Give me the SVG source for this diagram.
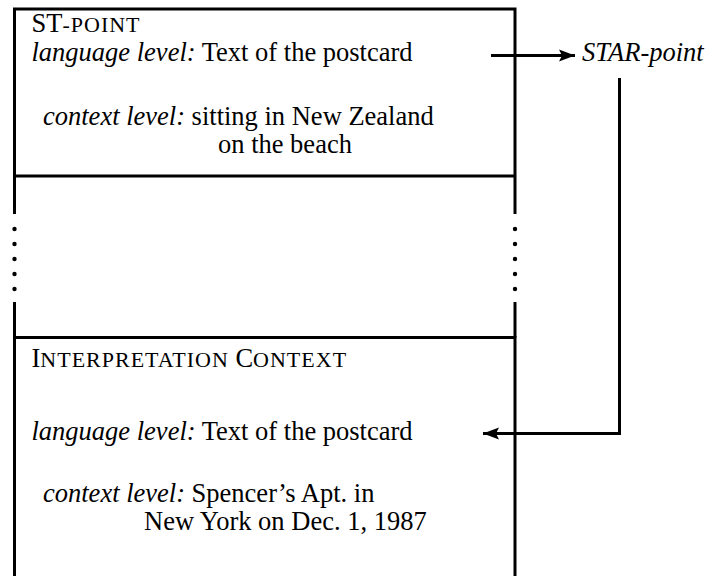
<svg xmlns="http://www.w3.org/2000/svg" width="709" height="576" viewBox="0 0 709 576">
  <style>
    .frame { fill: none; stroke: #000; stroke-width: 3; stroke-linecap: butt; }
    .conn { fill: none; stroke: #000; stroke-width: 3; }
    .dot { fill: #000; }
    text { font-family: "Liberation Serif", "Times New Roman", serif; font-size: 26.5px; fill: #000; }
    .it { font-style: italic; }
    .sc { font-size: 22px; letter-spacing: 1px; }
  </style>
  <defs>
    <marker id="head" markerUnits="userSpaceOnUse" markerWidth="18" markerHeight="14" refX="16" refY="7" orient="auto">
      <path d="M0,1 L16,7 L0,13 L3,7 Z" fill="#000"/>
    </marker>
  </defs>

  <!-- upper box: the ST-point -->
  <g id="st-point">
    <path class="frame" d="M14.5,214 V9 H515 V214 M14.5,176 H515"/>
    <text x="31.5" y="32">ST<tspan class="sc">-POINT</tspan></text>
    <text x="31.5" y="61"><tspan class="it">language level:</tspan> Text of the postcard</text>
    <text x="43" y="125"><tspan class="it">context level:</tspan> sitting in New Zealand</text>
    <text x="218" y="153">on the beach</text>
  </g>

  <!-- elided middle section -->
  <g id="gap">
    <circle class="dot" cx="14.5" cy="229" r="2.2"/>
    <circle class="dot" cx="14.5" cy="244" r="2.2"/>
    <circle class="dot" cx="14.5" cy="259" r="2.2"/>
    <circle class="dot" cx="14.5" cy="274" r="2.2"/>
    <circle class="dot" cx="14.5" cy="289" r="2.2"/>
    <circle class="dot" cx="515" cy="229" r="2.2"/>
    <circle class="dot" cx="515" cy="244" r="2.2"/>
    <circle class="dot" cx="515" cy="259" r="2.2"/>
    <circle class="dot" cx="515" cy="274" r="2.2"/>
    <circle class="dot" cx="515" cy="289" r="2.2"/>
    <path class="frame" d="M14.5,302 V337.5 M515,302 V337.5"/>
  </g>

  <!-- lower box: the interpretation context -->
  <g id="interpretation-context">
    <path class="frame" d="M14.5,576 V337.5 H515 V576"/>
    <text x="31.5" y="367">I<tspan class="sc">NTERPRETATION</tspan> C<tspan class="sc">ONTEXT</tspan></text>
    <text x="31.5" y="440"><tspan class="it">language level:</tspan> Text of the postcard</text>
    <text x="43" y="502"><tspan class="it">context level:</tspan> Spencer’s Apt. in</text>
    <text x="144" y="530">New York on Dec. 1, 1987</text>
  </g>

  <!-- STAR-point label -->
  <g id="star-point">
    <text class="it" x="582" y="61">STAR-point</text>
  </g>

  <!-- connectors -->
  <g id="connectors">
    <path class="conn" d="M491,55.5 H575" marker-end="url(#head)"/>
    <path class="conn" d="M619.5,78 V433.5 H483" marker-end="url(#head)"/>
  </g>
</svg>
